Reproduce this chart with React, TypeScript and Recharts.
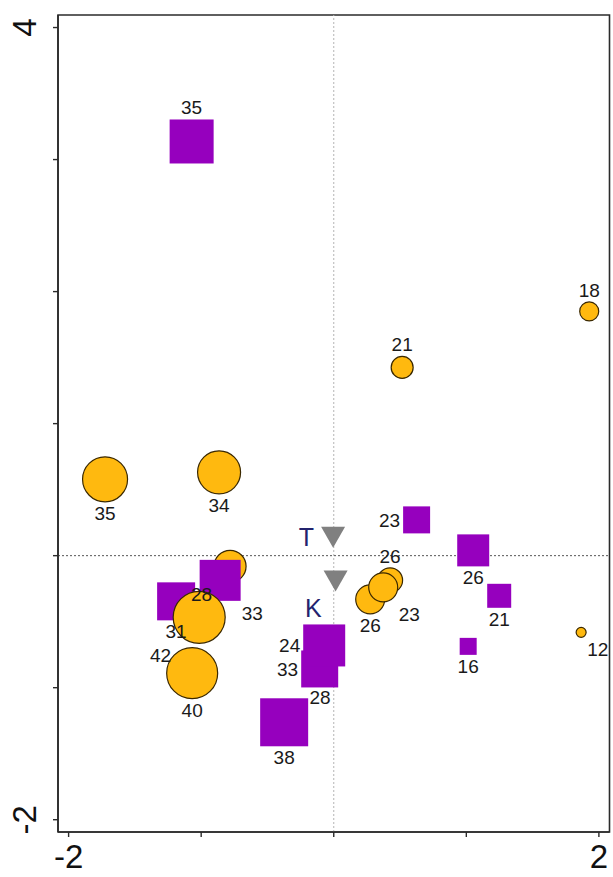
import { ReferenceArea, ReferenceLine, Scatter, ScatterChart, XAxis, YAxis, ZAxis } from 'recharts'

const FONT = '"Liberation Sans", Arial, sans-serif'
const ORANGE = '#FFB90F'
const PURPLE = '#9600BE'

// orange samples (first one sits underneath the purple squares)
const circleLabels = ['28', '35', '34', '21', '18', '12', '26', '26', '23', '42', '40']
const circleX = [-0.782, -1.725, -0.865, 0.516, 1.927, 1.866, 0.425, 0.275, 0.373, -1.015, -1.068]
const circleY = [-0.081, 0.578, 0.631, 1.426, 1.85, -0.581, -0.187, -0.331, -0.24, -0.467, -0.89]
const circleSize = [32, 45, 43, 22, 19, 10, 25, 29, 29, 52, 51]
const circleLabelAt = ['sw', 's', 's', 'n', 'n', 'se', 'n', 's', 'se', 'sw', 's']

// purple samples
const squareLabels = ['35', '23', '26', '21', '16', '33', '31', '33', '28', '24', '38']
const squareX = [-1.072, 0.625, 1.052, 1.248, 1.014, -0.857, -1.189, -0.106, -0.103, -0.072, -0.374]
const squareY = [3.137, 0.271, 0.04, -0.304, -0.687, -0.187, -0.346, -0.858, -0.884, -0.68, -1.262]
const squareSize = [44, 27, 32, 24, 17, 41, 38, 37, 28, 42, 48]
const squareLabelAt = ['n', 'w', 's', 's', 's', 'se', 's', 'w', 's', 'w', 's']

// supplementary variables
const arrowLabels = ['T', 'K']
const arrowX = [-0.005, 0.014]
const arrowY = [0.14, -0.191]
const arrowSize = [24, 24]

const xTicks = [-2, -1, 0, 1, 2]
const xTickLabels = ['-2', '', '', '', '2']
const yTicks = [-2, -1, 0, 1, 2, 3, 4]
const yTickLabels = ['-2', '', '', '', '', '', '4']

const X_DOMAIN: [number, number] = [-2.08, 2.08]
const Y_DOMAIN: [number, number] = [-2.093, 4.095]

type Row = { label: string; x: number; y: number; z: number; at: string }

// z is the squared symbol width, so the area scale of the ZAxis gives back the width
const toRows = (labels: string[], xs: number[], ys: number[], sizes: number[], at: string[]): Row[] =>
  labels.map((label, i) => ({ label, x: xs[i], y: ys[i], z: sizes[i] * sizes[i], at: at[i] }))

const circles = toRows(circleLabels, circleX, circleY, circleSize, circleLabelAt)
const squares = toRows(squareLabels, squareX, squareY, squareSize, squareLabelAt)
const arrows = toRows(arrowLabels, arrowX, arrowY, arrowSize, ['w', 'sw'])

const halfWidth = (p: any) => (p.width ? p.width / 2 : Math.sqrt((p.size || 0) / Math.PI))

function Disc(props: any) {
  const r = halfWidth(props)
  return <circle cx={props.cx} cy={props.cy} r={r} fill={ORANGE} stroke="#3a2800" strokeWidth={1.2} />
}

function Block(props: any) {
  const r = halfWidth(props)
  return <rect x={props.cx - r} y={props.cy - r} width={2 * r} height={2 * r} fill={PURPLE} />
}

function Arrow(props: any) {
  const r = halfWidth(props)
  const h = r * 0.875
  const { cx, cy } = props
  return <polygon points={`${cx - r},${cy - h} ${cx + r},${cy - h} ${cx},${cy + h}`} fill="#808080" />
}

function tagPos(at: string, cx: number, cy: number, r: number) {
  switch (at) {
    case 'n':
      return { x: cx, y: cy - r - 5, anchor: 'middle' }
    case 'w':
      return { x: cx - r - 3, y: cy + 7, anchor: 'end' }
    case 'se':
      return { x: cx + r + 1, y: cy + r + 19, anchor: 'start' }
    case 'sw':
      return { x: cx - r - 2, y: cy + r + 19, anchor: 'end' }
    default:
      return { x: cx, y: cy + r + 18, anchor: 'middle' }
  }
}

function Tag(props: any) {
  const r = halfWidth(props)
  const p = tagPos(props.payload.at, props.cx, props.cy, r)
  return (
    <text x={p.x} y={p.y} textAnchor={p.anchor as any} fontFamily={FONT} fontSize={19} fill="#1a1a1a">
      {props.payload.label}
    </text>
  )
}

function ArrowTag(props: any) {
  const { cx, cy, payload } = props
  const isT = payload.at === 'w'
  return (
    <text
      x={isT ? cx - 19 : cx - 14}
      y={isT ? cy + 9 : cy + 36}
      textAnchor="end"
      fontFamily={FONT}
      fontSize={25}
      fill="#23236e"
    >
      {payload.label}
    </text>
  )
}

function XTick({ x, y, payload }: any) {
  const label = xTickLabels[xTicks.indexOf(payload.value)]
  return (
    <text x={x} y={y + 29} textAnchor="middle" fontFamily={FONT} fontSize={33} fill="#111">
      {label}
    </text>
  )
}

function YTick({ y, payload }: any) {
  const label = yTickLabels[yTicks.indexOf(payload.value)]
  const cx = 25
  return (
    <text
      x={cx}
      y={y}
      transform={`rotate(-90, ${cx}, ${y})`}
      textAnchor="middle"
      dominantBaseline="central"
      fontFamily={FONT}
      fontSize={33}
      fill="#111"
    >
      {label}
    </text>
  )
}

export default function App() {
  return (
    <div style={{ position: 'absolute', left: 0, top: 0, background: '#fff' }}>
      <ScatterChart width={613} height={877} margin={{ top: 15, right: 3.5, left: 0, bottom: 0 }}>
        <XAxis
          type="number"
          dataKey="x"
          domain={X_DOMAIN}
          ticks={xTicks}
          allowDataOverflow
          height={45}
          tick={<XTick />}
          tickSize={5}
          axisLine={{ stroke: '#2b2b2b', strokeWidth: 1.6 }}
          tickLine={{ stroke: '#2b2b2b', strokeWidth: 1.4 }}
        />
        <YAxis
          type="number"
          dataKey="y"
          domain={Y_DOMAIN}
          ticks={yTicks}
          allowDataOverflow
          width={58}
          tick={<YTick />}
          tickSize={5}
          axisLine={{ stroke: '#2b2b2b', strokeWidth: 1.6 }}
          tickLine={{ stroke: '#2b2b2b', strokeWidth: 1.4 }}
        />
        <ZAxis type="number" dataKey="z" domain={[0, 3600]} range={[0, 900 * Math.PI]} />
        <ReferenceArea
          x1={X_DOMAIN[0]}
          x2={X_DOMAIN[1]}
          y1={Y_DOMAIN[0]}
          y2={Y_DOMAIN[1]}
          fill="none"
          stroke="#2b2b2b"
          strokeWidth={1.6}
        />
        <ReferenceLine x={0} stroke="#b5b5b5" strokeDasharray="2 2" />
        <ReferenceLine y={0} stroke="#555" strokeDasharray="2 2" />
        <Scatter data={circles.slice(0, 1)} shape={<Disc />} isAnimationActive={false} />
        <Scatter data={squares} shape={<Block />} isAnimationActive={false} />
        <Scatter data={circles.slice(1)} shape={<Disc />} isAnimationActive={false} />
        <Scatter data={arrows} shape={<Arrow />} isAnimationActive={false} />
        <Scatter data={[...circles, ...squares]} shape={<Tag />} isAnimationActive={false} />
        <Scatter data={arrows} shape={<ArrowTag />} isAnimationActive={false} />
      </ScatterChart>
    </div>
  )
}
